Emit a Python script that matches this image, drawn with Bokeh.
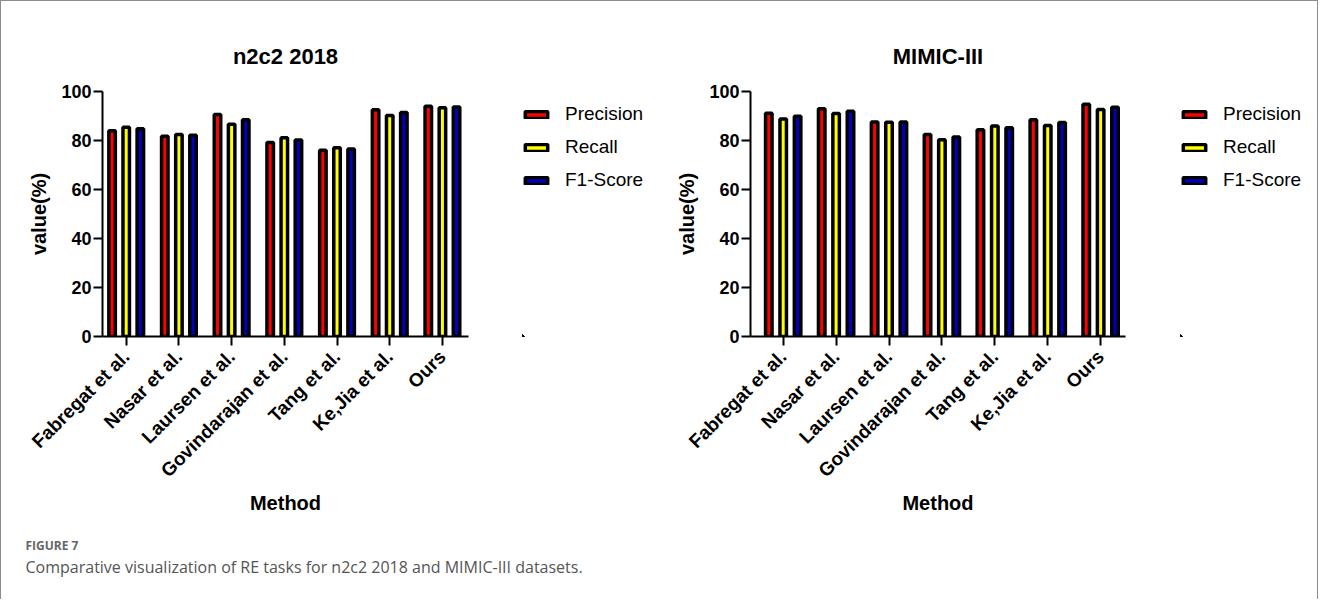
import math
from bokeh.plotting import figure
from bokeh.models import (Range1d, FixedTicker, Legend, LegendItem, ColumnDataSource, Label)
from bokeh.layouts import column, row
from bokeh.transform import dodge
from bokeh.embed import file_html
from bokeh.resources import INLINE

methods = ["Fabregat et al.", "Nasar et al.", "Laursen et al.", "Govindarajan et al.",
           "Tang et al.", "Ke,Jia et al.", "Ours"]
metrics = ["Precision", "Recall", "F1-Score"]
colors = ["#ff0000", "#ffff00", "#0000c0"]

n2c2_precision = [84.0, 81.7, 90.6, 79.2, 76.0, 92.6, 94.0]
n2c2_recall = [85.4, 82.4, 86.6, 81.1, 77.0, 90.2, 93.4]
n2c2_f1 = [84.8, 82.1, 88.5, 80.2, 76.5, 91.4, 93.7]

mimic_precision = [91.1, 93.0, 87.6, 82.5, 84.4, 88.5, 94.8]
mimic_recall = [88.8, 91.0, 87.4, 80.3, 85.9, 86.1, 92.7]
mimic_f1 = [89.9, 91.9, 87.6, 81.4, 85.2, 87.3, 93.6]

y_ticks = [0, 20, 40, 60, 80, 100]

FONT = "Liberation Sans"
H = 528
MB_TOP = 90
MB_BOTTOM = 193


def make_chart(title, series, xs, xe, dx, bw, width, mbl, mbr):
    p = figure(width=width, height=H, output_backend="svg", toolbar_location=None,
               x_range=Range1d(xs, xe), y_range=Range1d(0, 100),
               min_border_left=mbl, min_border_right=mbr, min_border_top=MB_TOP,
               min_border_bottom=MB_BOTTOM)
    p.title.text = title
    p.title.align = "center"
    p.title.text_font = FONT
    p.title.text_font_size = "22px"
    p.title.text_font_style = "bold"
    p.title.text_color = "black"
    p.title.standoff = 45
    p.xgrid.visible = False
    p.ygrid.visible = False
    p.outline_line_color = None

    idx = list(range(len(methods)))
    sources = []
    for k, (vals, col) in enumerate(zip(series, colors)):
        src = ColumnDataSource(dict(i=idx, top=vals))
        sources.append(src)
        p.vbar(x=dodge("i", (k - 1) * dx), top="top", width=bw, source=src,
               fill_color=col, line_color="black", line_width=3.5)

    for ax in (p.xaxis[0], p.yaxis[0]):
        ax.axis_line_width = 2
        ax.axis_line_color = "black"
        ax.major_tick_line_width = 2
        ax.major_tick_line_color = "black"
        ax.major_tick_out = 9
        ax.major_tick_in = 0
        ax.minor_tick_line_color = None
        ax.major_label_text_font = FONT
        ax.major_label_text_font_style = "bold"
        ax.major_label_text_font_size = "18px"
        ax.major_label_text_color = "black"
        ax.axis_label_text_font = FONT
        ax.axis_label_text_font_style = "bold"
        ax.axis_label_text_font_size = "20px"
        ax.axis_label_text_color = "black"

    p.yaxis.ticker = FixedTicker(ticks=y_ticks)
    p.yaxis.major_label_standoff = 2
    p.yaxis.axis_label = "value(%)"
    p.yaxis.axis_label_standoff = 8

    p.xaxis.ticker = FixedTicker(ticks=idx)
    p.xaxis.major_label_overrides = {i: m for i, m in enumerate(methods)}
    p.xaxis.major_label_orientation = math.pi / 4
    p.xaxis.major_label_text_font_size = "19px"
    p.xaxis.major_label_standoff = 8
    p.xaxis.axis_label = "Method"
    p.xaxis.axis_label_standoff = 0
    return p, sources


def make_legend(width, lx, sources):
    # separate legend panel; its frame is aligned with the chart frame by the row.
    # Its ranges lie far away from the data so that only the legend is visible.
    lf = figure(width=width, height=H, output_backend="svg", toolbar_location=None,
                x_range=Range1d(100, 101), y_range=Range1d(1000, 1001),
                x_axis_location=None, y_axis_location=None,
                min_border_left=lx, min_border_top=MB_TOP, min_border_right=0,
                min_border_bottom=MB_BOTTOM)
    lf.xgrid.visible = False
    lf.ygrid.visible = False
    lf.outline_line_color = None
    items = []
    for name, col, src in zip(metrics, colors, sources):
        r = lf.vbar(x="i", top="top", width=0.1, source=src, fill_color=col,
                    line_color="black", line_width=3.5)
        items.append(LegendItem(label=name, renderers=[r]))
    legend = Legend(items=items, location=(0, 145), orientation="vertical",
                    glyph_width=28, glyph_height=9, label_height=20, spacing=11,
                    padding=0, margin=0, border_line_color=None,
                    background_fill_alpha=0, label_standoff=15,
                    label_text_font=FONT, label_text_font_size="19px",
                    label_text_color="black")
    lf.add_layout(legend, "center")
    return lf


p1, s1 = make_chart("n2c2 2018", [n2c2_precision, n2c2_recall, n2c2_f1],
                    -0.45, 6.495, 0.268, 0.123, 477, 101, 10)
l1 = make_legend(182, 44, s1)
p2, s2 = make_chart("MIMIC-III", [mimic_precision, mimic_recall, mimic_f1],
                    -0.618, 6.47, 0.272, 0.123, 475, 90, 10)
l2 = make_legend(182, 45, s2)

cap = figure(width=1316, height=70, output_backend="svg", toolbar_location=None,
             x_range=Range1d(0, 1316), y_range=Range1d(0, 70),
             x_axis_location=None, y_axis_location=None, min_border=0)
cap.xgrid.visible = False
cap.ygrid.visible = False
cap.outline_line_color = None
cap.add_layout(Label(x=24, y=54, text="FIGURE 7", text_font="Open Sans",
                     text_font_size="12px", text_font_style="bold",
                     text_color="#666666", text_baseline="middle"))
cap.add_layout(Label(x=24, y=33,
                     text="Comparative visualization of RE tasks for n2c2 2018 and MIMIC-III datasets.",
                     text_font="Open Sans", text_font_size="16px",
                     text_color="#555555", text_baseline="middle"))

layout = column(row(p1, l1, p2, l2), cap,
                styles={"border-left": "1px solid #8c8c8c",
                        "border-top": "1px solid #8c8c8c",
                        "border-right": "1px solid #8c8c8c"})

open("out.html", "w").write(file_html(layout, INLINE))
